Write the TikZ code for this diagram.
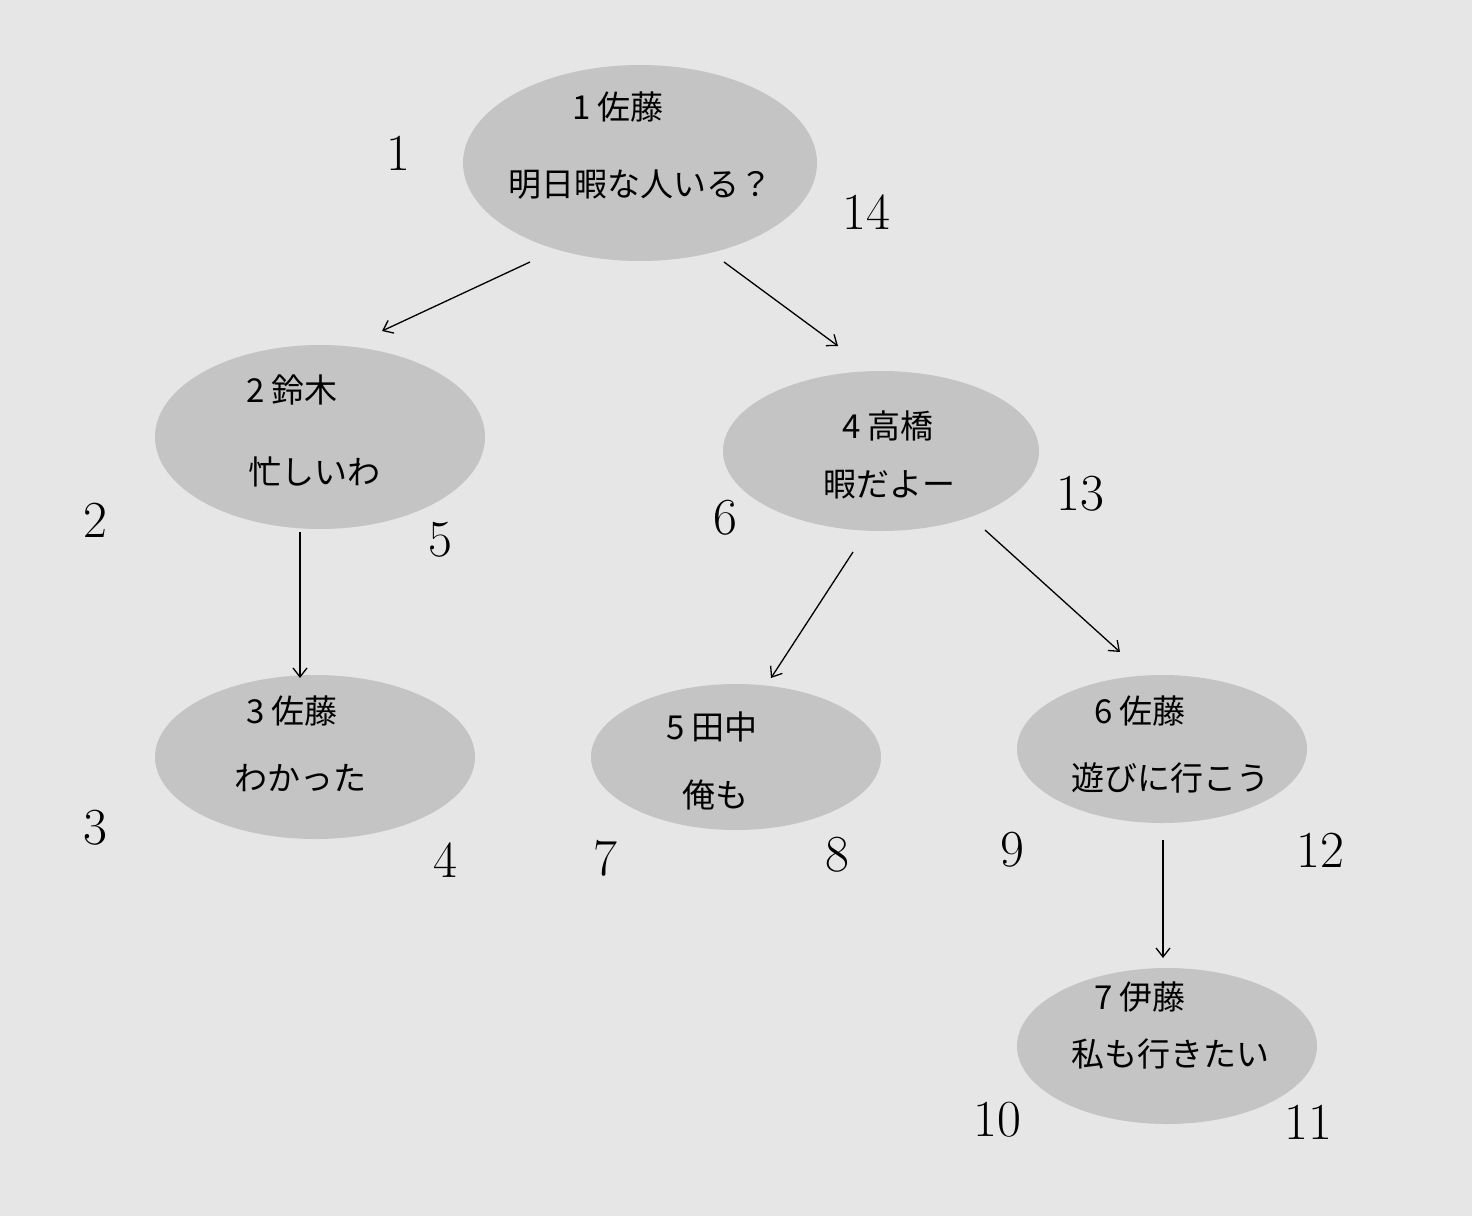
\documentclass[tikz,border=0pt]{standalone}
\usepackage{fontspec}
\newfontfamily\jpfont{Noto Sans CJK JP}
\definecolor{bg}{HTML}{E6E6E6}
\definecolor{bubble}{HTML}{C4C4C4}
\tikzset{
  post/.style={ellipse,fill=bubble,inner sep=0pt},
  msg/.style={font=\jpfont\fontsize{33}{40}\selectfont,inner sep=0pt},
  hand/.style={font=\fontsize{52}{60}\selectfont,inner sep=0pt},
  link/.style={-{Straight Barb[length=9pt,width=14pt]},line width=1.3pt}
}
\usetikzlibrary{shapes.geometric,arrows.meta}
\begin{document}
\begin{tikzpicture}[x=1pt,y=-1pt]
  \fill[bg] (0,0) rectangle (1472,1216);
  % posts
  \node[post,minimum width=354,minimum height=196] (p1) at (640,163) {};
  \node[msg] (n1) at (618,107) {1 佐藤};
  \node[msg] (t1) at (640,185) {明日暇な人いる？};
  \node[post,minimum width=330,minimum height=184] (p2) at (320,437) {};
  \node[msg] (n2) at (292,390) {2 鈴木};
  \node[msg] (t2) at (314,472) {忙しいわ};
  \node[post,minimum width=316,minimum height=160] (p4) at (881,451) {};
  \node[msg] (n4) at (888,426) {4 高橋};
  \node[msg] (t4) at (889,485) {暇だよー};
  \node[post,minimum width=320,minimum height=164] (p3) at (315,757) {};
  \node[msg] (n3) at (292,711) {3 佐藤};
  \node[msg] (t3) at (300,778) {わかった};
  \node[post,minimum width=290,minimum height=146] (p5) at (736,757) {};
  \node[msg] (n5) at (712,727) {5 田中};
  \node[msg] (t5) at (715,795) {俺も};
  \node[post,minimum width=290,minimum height=148] (p6) at (1162,749) {};
  \node[msg] (n6) at (1140,711) {6 佐藤};
  \node[msg] (t6) at (1170,778) {遊びに行こう};
  \node[post,minimum width=300,minimum height=156] (p7) at (1167,1046) {};
  \node[msg] (n7) at (1140,997) {7 伊藤};
  \node[msg] (t7) at (1170,1054) {私も行きたい};
  % replies
  \coordinate (a1) at (530,262); \coordinate (b1) at (382,331);
  \coordinate (a2) at (724,262); \coordinate (b2) at (838,346);
  \coordinate (a3) at (300,532); \coordinate (b3) at (300,678);
  \coordinate (a4) at (853,552); \coordinate (b4) at (771,678);
  \coordinate (a5) at (985,530); \coordinate (b5) at (1120,652);
  \coordinate (a6) at (1163,840); \coordinate (b6) at (1163,958);
  \foreach \i in {1,...,6}
    \draw[link] (a\i) -- (b\i);
  % visit order
  \node[hand] (h1) at (398,153) {1};
  \node[hand] (h14) at (866,212) {14};
  \node[hand] (h2) at (95,520) {2};
  \node[hand] (h5) at (440,540) {5};
  \node[hand] (h6) at (725,518) {6};
  \node[hand] (h13) at (1080,494) {13};
  \node[hand] (h3) at (95,828) {3};
  \node[hand] (h4) at (445,860) {4};
  \node[hand] (h7) at (605,858) {7};
  \node[hand] (h8) at (837,855) {8};
  \node[hand] (h9) at (1012,850) {9};
  \node[hand] (h12) at (1320,850) {12};
  \node[hand] (h10) at (997,1120) {10};
  \node[hand] (h11) at (1308,1122) {11};
\end{tikzpicture}
\end{document}
